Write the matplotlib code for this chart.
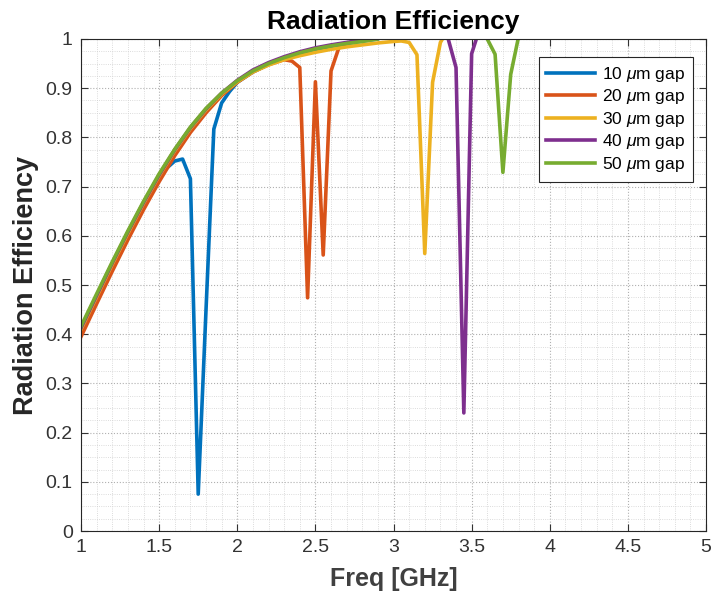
import matplotlib
matplotlib.use('Agg')
import matplotlib.pyplot as plt
from matplotlib.ticker import MultipleLocator

plt.rcParams['font.family'] = ['Liberation Sans', 'DejaVu Sans']
plt.rcParams['mathtext.fontset'] = 'custom'
plt.rcParams['mathtext.it'] = 'Liberation Sans:italic'

# Datos (frecuencia en GHz, eficiencia)
f_10 = [1.0, 1.1, 1.2, 1.3, 1.4, 1.5, 1.55, 1.6, 1.65, 1.7, 1.75, 1.8, 1.85, 1.9, 1.95,
        2.0, 2.1, 2.2, 2.3, 2.4, 2.5, 2.6, 2.7, 2.8, 2.9, 3.0, 4.0, 5.0]
e_10 = [0.408, 0.474, 0.54, 0.602, 0.662, 0.718, 0.738, 0.752, 0.756, 0.716, 0.075, 0.45, 0.817, 0.87, 0.893,
        0.912, 0.933, 0.948, 0.96, 0.97, 0.978, 0.985, 0.991, 0.996, 1.0, 1.02, 1.02, 1.02]

f_20 = [1.0, 1.1, 1.2, 1.3, 1.4, 1.5, 1.6, 1.7, 1.8, 1.9, 2.0, 2.1, 2.2, 2.3, 2.35,
        2.4, 2.45, 2.5, 2.55, 2.6, 2.65, 2.7, 2.8, 2.9, 3.0, 4.0, 5.0]
e_20 = [0.395, 0.462, 0.528, 0.592, 0.653, 0.71, 0.763, 0.81, 0.85, 0.885, 0.912, 0.933, 0.948, 0.958, 0.955,
        0.942, 0.474, 0.913, 0.561, 0.935, 0.982, 0.991, 0.998, 1.01, 1.02, 1.02, 1.02]

f_30 = [1.0, 1.1, 1.2, 1.3, 1.4, 1.5, 1.6, 1.7, 1.8, 1.9, 2.0, 2.1, 2.2, 2.3, 2.4, 2.5, 2.6, 2.7, 2.8, 2.9,
        3.0, 3.05, 3.1, 3.15, 3.2, 3.25, 3.3, 3.35, 4.0, 5.0]
e_30 = [0.41, 0.476, 0.542, 0.605, 0.666, 0.722, 0.773, 0.818, 0.856, 0.888, 0.913, 0.933, 0.947, 0.958, 0.966, 0.973,
        0.979, 0.984, 0.988, 0.992, 0.995, 0.996, 0.993, 0.968, 0.564, 0.912, 0.993, 1.02, 1.02, 1.02]

f_40 = [1.0, 1.1, 1.2, 1.3, 1.4, 1.5, 1.6, 1.7, 1.8, 1.9, 2.0, 2.1, 2.2, 2.3, 2.4, 2.5, 2.6, 2.7, 2.8, 2.9,
        3.0, 3.3, 3.35, 3.4, 3.45, 3.5, 3.55, 4.0, 5.0]
e_40 = [0.413, 0.479, 0.545, 0.608, 0.668, 0.724, 0.775, 0.82, 0.858, 0.89, 0.916, 0.937, 0.952, 0.964, 0.974, 0.982,
        0.988, 0.993, 0.998, 1.006, 1.02, 1.02, 1.0, 0.942, 0.24, 0.97, 1.02, 1.02, 1.02]

f_50 = [1.0, 1.1, 1.2, 1.3, 1.4, 1.5, 1.6, 1.7, 1.8, 1.9, 2.0, 2.1, 2.2, 2.3, 2.4, 2.5, 2.6, 2.7, 2.8, 2.9,
        3.0, 3.55, 3.6, 3.65, 3.7, 3.75, 3.8, 3.85, 5.0]
e_50 = [0.416, 0.482, 0.547, 0.61, 0.67, 0.726, 0.776, 0.821, 0.859, 0.89, 0.915, 0.935, 0.95, 0.962, 0.972, 0.98,
        0.986, 0.991, 0.995, 1.0, 1.02, 1.02, 1.0, 0.969, 0.729, 0.928, 1.004, 1.02, 1.02]

x_ticks = [1, 1.5, 2, 2.5, 3, 3.5, 4, 4.5, 5]
x_ticklabels = ['1', '1.5', '2', '2.5', '3', '3.5', '4', '4.5', '5']
y_ticks = [0, 0.1, 0.2, 0.3, 0.4, 0.5, 0.6, 0.7, 0.8, 0.9, 1]
y_ticklabels = ['0', '0.1', '0.2', '0.3', '0.4', '0.5', '0.6', '0.7', '0.8', '0.9', '1']

series = [(f_10, e_10, '#0072BD', r'10 $\mu$m gap'),
          (f_20, e_20, '#D95319', r'20 $\mu$m gap'),
          (f_30, e_30, '#EDB120', r'30 $\mu$m gap'),
          (f_40, e_40, '#7E2F8E', r'40 $\mu$m gap'),
          (f_50, e_50, '#77AC30', r'50 $\mu$m gap')]

fig = plt.figure(figsize=(7.12, 5.99), dpi=100)
ax = fig.add_axes([0.1138, 0.1135, 0.8778, 0.8214])

for f, e, c, lab in series:
    ax.plot(f, e, color=c, linewidth=2.6, label=lab)

ax.set_xlim(1, 5)
ax.set_ylim(0, 1)
ax.set_xticks(x_ticks)
ax.set_xticklabels(x_ticklabels)
ax.set_yticks(y_ticks)
ax.set_yticklabels(y_ticklabels)
ax.xaxis.set_minor_locator(MultipleLocator(0.1))
ax.yaxis.set_minor_locator(MultipleLocator(0.025))

ax.grid(which='major', linestyle=':', color='#b0b0b0', linewidth=0.8)
ax.grid(which='minor', linestyle=':', color='#d0d0d0', linewidth=0.6)
ax.tick_params(which='major', direction='in', length=5, top=True, right=True,
               labelsize=14, colors='#333333', pad=6)
ax.tick_params(which='minor', length=0)
for s in ax.spines.values():
    s.set_color('#262626')
    s.set_linewidth(0.8)

ax.set_title('Radiation Efficiency', fontsize=19, fontweight='bold', pad=7)
ax.set_xlabel('Freq [GHz]', fontsize=18, fontweight='bold', color='#404040', labelpad=8)
ax.set_ylabel('Radiation Efficiency', fontsize=19.5, fontweight='bold', color='#262626')
ax.yaxis.set_label_coords(-0.067, 0.5)

leg = ax.legend(loc='upper right', bbox_to_anchor=(0.979, 0.963), borderaxespad=0,
                fontsize=12.5, fancybox=False, framealpha=1, edgecolor='#262626',
                handlelength=2.8, labelspacing=0.2, borderpad=0.45, handletextpad=0.4)
leg.get_frame().set_linewidth(0.8)

fig.savefig('out.png', dpi=100)
